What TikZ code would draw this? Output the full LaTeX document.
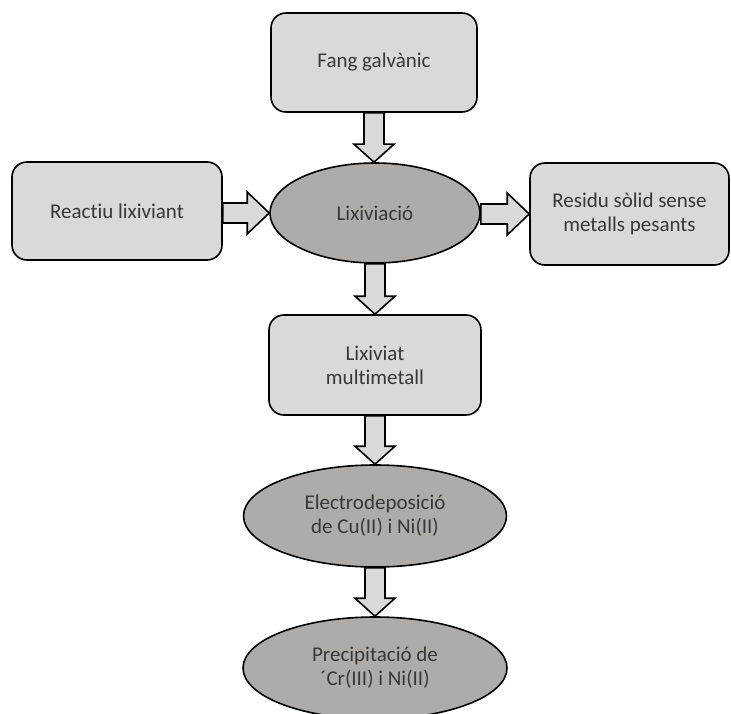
\documentclass[tikz,border=0pt]{standalone}
\usepackage{fontspec}
\setmainfont{Carlito}[Ligatures={NoCommon}]
\usetikzlibrary{shapes.geometric,calc}
\definecolor{boxfill}{HTML}{D9D9D9}
\definecolor{ovalfill}{HTML}{AEABAB}
\definecolor{txt}{HTML}{383838}
\tikzset{
  label font/.style={font=\fontsize{21bp}{24bp}\selectfont, text=txt},
  stage/.style={draw=black, line width=1.6bp, fill=boxfill, rounded corners=15bp,
    rectangle, align=center, inner sep=0pt, label font},
  proc/.style={draw=black, line width=1.6bp, fill=ovalfill, ellipse,
    align=center, inner sep=0pt, label font},
  flow/.style={draw=black, line width=1.6bp, fill=boxfill, line join=miter},
}
% block arrow pointing down, from the bottom of #1 to the top of #2
\newcommand{\flowdown}[2]{%
  \draw[flow] let \p1=(#1.south), \p2=(#2.north) in
    (\x1-10bp,\y1) -- (\x1+10bp,\y1) -- (\x1+10bp,\y2+18bp) -- (\x1+20bp,\y2+18bp)
    -- (\x1,\y2) -- (\x1-20bp,\y2+18bp) -- (\x1-10bp,\y2+18bp) -- cycle;}
% block arrow pointing right, from the right side of #1 to the left side of #2
\newcommand{\flowright}[2]{%
  \draw[flow] let \p1=(#1.east), \p2=(#2.west) in
    (\x1,\y2+10bp) -- (\x2-22bp,\y2+10bp) -- (\x2-22bp,\y2+21bp) -- (\x2,\y2)
    -- (\x2-22bp,\y2-21bp) -- (\x2-22bp,\y2-10bp) -- (\x1,\y2-10bp) -- cycle;}
\begin{document}
\begin{tikzpicture}[x=1bp, y=-1bp]
  \useasboundingbox (0,0) rectangle (731,714);
  \clip (0,0) rectangle (731,714);

  \node[stage, minimum width=206bp, minimum height=99bp] (fang) at (374,62.5) {Fang galvànic};
  \node[stage, minimum width=210bp, minimum height=98bp] (reactiu) at (117,211) {Reactiu lixiviant};
  \node[proc, minimum width=210bp, minimum height=100bp] (lix) at (375,213) {Lixiviació};
  \node[stage, minimum width=199bp, minimum height=102bp] (residu) at (629.5,214) {Residu sòlid sense\\metalls pesants};
  \node[stage, minimum width=212bp, minimum height=100bp] (lixiviat) at (375,365) {Lixiviat\\multimetall};
  \node[proc, minimum width=263bp, minimum height=102bp] (electro) at (375,516) {Electrodeposició\\de Cu(II) i Ni(II)};
  \node[proc, minimum width=264bp, minimum height=102bp] (precip) at (375,668) {Precipitació de\\´Cr(III) i Ni(II)};

  \flowdown{fang}{lix}
  \flowright{reactiu}{lix}
  \flowright{lix}{residu}
  \flowdown{lix}{lixiviat}
  \flowdown{lixiviat}{electro}
  \flowdown{electro}{precip}
\end{tikzpicture}
\end{document}
